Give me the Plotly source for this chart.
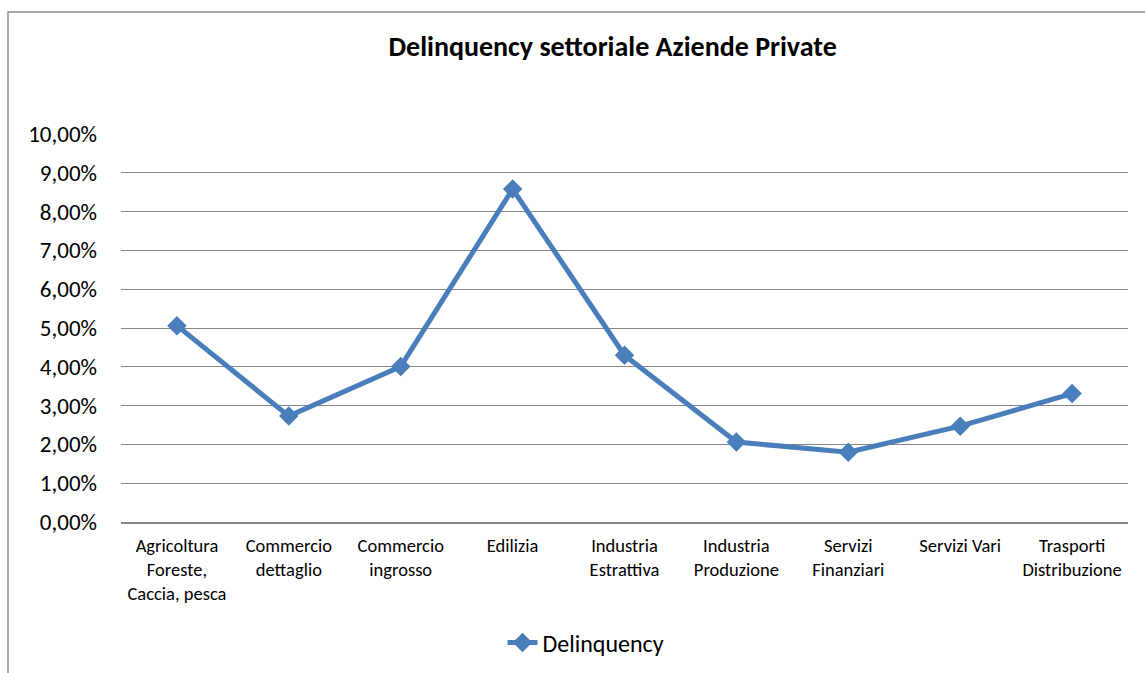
import plotly.graph_objects as go

categories = [
    "Agricoltura<br>Foreste,<br>Caccia, pesca",
    "Commercio<br>dettaglio",
    "Commercio<br>ingrosso",
    "Edilizia",
    "Industria<br>Estrattiva",
    "Industria<br>Produzione",
    "Servizi<br>Finanziari",
    "Servizi Vari",
    "Trasporti<br>Distribuzione",
]
delinquency = [0.0506, 0.0273, 0.0401, 0.0858, 0.0430, 0.0206, 0.0180, 0.0247, 0.0331]
y_ticks = [i / 100 for i in range(0, 11)]
y_tick_labels = [f"{i},00%" for i in range(0, 11)]

FONT = "Carlito, Lato, 'Open Sans', sans-serif"
BLUE = "#4A7EBB"
GRID = "#868686"

fig = go.Figure()
fig.add_trace(go.Scatter(
    x=categories, y=delinquency, mode="lines+markers", name="Delinquency",
    line=dict(color=BLUE, width=5),
    marker=dict(symbol="diamond", size=15, color=BLUE),
))

fig.update_layout(
    width=1145, height=673,
    margin=dict(l=121, r=17, t=134, b=151, autoexpand=False),
    paper_bgcolor="white", plot_bgcolor="white",
    font=dict(family=FONT, color="#000000"),
    title=dict(text="<b>Delinquency settoriale Aziende Private</b>",
               x=0.535, xanchor="center", y=1 - 46 / 673, yanchor="middle",
               font=dict(size=28, family=FONT)),
    showlegend=True,
    legend=dict(orientation="h", xref="container", yref="container",
                x=586 / 1145, xanchor="center", y=1 - 643 / 673, yanchor="middle",
                font=dict(size=24, family=FONT)),
    xaxis=dict(
        type="category", range=[-0.5, 8.5], showgrid=False,
        showline=True, linecolor=GRID, linewidth=2,
        tickfont=dict(size=18.5, family=FONT), ticks="", ticklabelstandoff=6,
    ),
    yaxis=dict(
        range=[0, 0.1], tickvals=y_ticks, ticktext=y_tick_labels,
        showgrid=True, gridcolor=GRID, gridwidth=1,
        zeroline=False, showline=False,
        tickfont=dict(size=23, family=FONT), ticklabelstandoff=23,
    ),
    shapes=[dict(type="rect", xref="paper", yref="paper",
                 x0=-113 / 1007, x1=1.2, y0=-0.5, y1=1 + 122 / 388,
                 line=dict(color="#8a8a8a", width=1.5))],
)

fig.write_html("out.html")
